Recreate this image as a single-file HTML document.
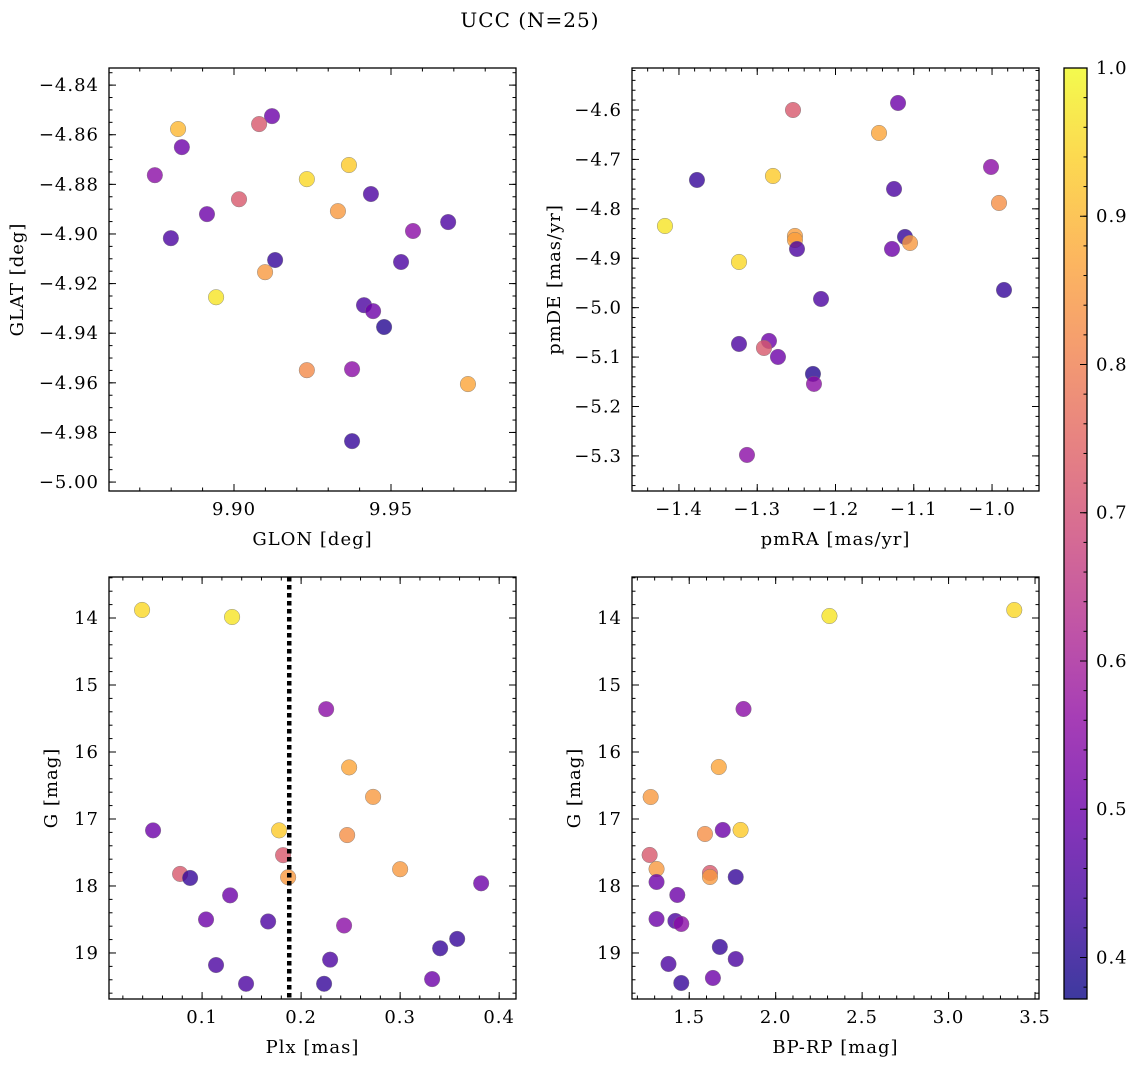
<!DOCTYPE html>
<html><head><meta charset="utf-8">
<style>
html,body{margin:0;padding:0;background:#fff;}
svg{display:block;font-family:"DejaVu Serif","Liberation Serif",serif;}
svg text{letter-spacing:1px;}
</style></head>
<body>
<svg id="fig" width="1136" height="1067" viewBox="0 0 1136 1067" xmlns="http://www.w3.org/2000/svg">
<defs>
<linearGradient id="plasma" x1="0" y1="1" x2="0" y2="0">
<stop offset="0" stop-color="#0d0887"/><stop offset="0.1" stop-color="#41049d"/><stop offset="0.2" stop-color="#6a00a8"/>
<stop offset="0.3" stop-color="#8f0da4"/><stop offset="0.4" stop-color="#b12a90"/><stop offset="0.5" stop-color="#cc4778"/>
<stop offset="0.6" stop-color="#e16462"/><stop offset="0.7" stop-color="#f2844b"/><stop offset="0.8" stop-color="#fca636"/>
<stop offset="0.9" stop-color="#fcce25"/><stop offset="1" stop-color="#f0f921"/>
</linearGradient>
</defs>
<text x="530" y="27" font-size="20" text-anchor="middle">UCC (N=25)</text>
</svg>
<script>
// Panel 1 data
const glon=[9.8822,9.9121,9.9080,9.8834,9.8748,9.9366,9.9232,9.9016,9.9331,9.9436,9.8914,9.8799,9.9682,9.9570,9.9131,9.9532,9.9099,9.8943,9.9414,9.9443,9.9478,9.9232,9.9376,9.9745,9.9376];
const glat=[-4.8577,-4.8525,-4.8557,-4.8650,-4.8763,-4.8722,-4.8779,-4.8860,-4.8908,-4.8839,-4.8920,-4.9017,-4.8952,-4.8988,-4.9105,-4.9113,-4.9154,-4.9255,-4.9287,-4.9311,-4.9375,-4.9549,-4.9545,-4.9605,-4.9835];
const prob1=[0.9,0.5,0.72,0.5,0.55,0.93,0.95,0.72,0.85,0.45,0.5,0.45,0.45,0.55,0.42,0.45,0.85,0.97,0.45,0.5,0.4,0.82,0.55,0.87,0.42];
// Panel 2 data
const pmra=[-1.2543,-1.1201,-1.1444,-1.3770,-1.2799,-1.0013,-1.1252,-0.9911,-1.4179,-1.2518,-1.2518,-1.1112,-1.1048,-1.2492,-1.1278,-1.3233,-0.9847,-1.2185,-1.2850,-1.3233,-1.2914,-1.2735,-1.2288,-1.2275,-1.3131];
const pmde=[-4.600,-4.5858,-4.6465,-4.7416,-4.7335,-4.7153,-4.7598,-4.7881,-4.8347,-4.8549,-4.8630,-4.8569,-4.8691,-4.8812,-4.8812,-4.9075,-4.9642,-4.9824,-5.0673,-5.0734,-5.0815,-5.0997,-5.1341,-5.1543,-5.2980];
const prob2=[0.72,0.5,0.87,0.42,0.93,0.55,0.45,0.83,0.97,0.86,0.86,0.42,0.85,0.45,0.5,0.95,0.42,0.45,0.5,0.45,0.72,0.5,0.4,0.55,0.55];
// Panel 3 data
const plx=[0.0394,0.1303,0.2253,0.2485,0.2727,0.0505,0.1778,0.2465,0.1818,0.0778,0.0879,0.1869,0.3000,0.3818,0.1283,0.1040,0.1667,0.2434,0.3576,0.3404,0.1141,0.2293,0.3323,0.1444,0.2232];
const gmag3=[13.88,13.985,15.36,16.23,16.67,17.17,17.17,17.24,17.54,17.82,17.88,17.87,17.75,17.96,18.14,18.50,18.53,18.59,18.79,18.93,19.18,19.10,19.39,19.46,19.46];
const prob3=[0.95,0.97,0.55,0.87,0.85,0.5,0.93,0.83,0.72,0.72,0.42,0.85,0.85,0.5,0.5,0.5,0.45,0.55,0.42,0.42,0.45,0.45,0.5,0.45,0.42];
const plxLine=0.188;
// Panel 4 data
const bprp=[3.380,2.311,1.814,1.671,1.277,1.591,1.694,1.797,1.271,1.311,1.620,1.620,1.769,1.311,1.431,1.311,1.420,1.454,1.677,1.769,1.380,1.637,1.454];
const gmag4=[13.881,13.970,15.358,16.224,16.672,17.224,17.164,17.164,17.537,17.746,17.806,17.866,17.866,17.940,18.134,18.493,18.522,18.567,18.910,19.090,19.164,19.373,19.448];
const prob4=[0.95,0.97,0.55,0.87,0.85,0.83,0.5,0.93,0.72,0.85,0.72,0.85,0.42,0.5,0.5,0.5,0.45,0.55,0.42,0.45,0.45,0.5,0.42];
// Tick labels
const ticks1x=[9.90,9.95], ticks1y=[-4.84,-4.86,-4.88,-4.90,-4.92,-4.94,-4.96,-4.98,-5.00];
const ticks2x=[-1.4,-1.3,-1.2,-1.1,-1.0], ticks2y=[-4.6,-4.7,-4.8,-4.9,-5.0,-5.1,-5.2,-5.3];
const ticks3x=[0.1,0.2,0.3,0.4], ticksG=[14,15,16,17,18,19];
const ticks4x=[1.5,2.0,2.5,3.0,3.5];
const ticksCb=[0.4,0.5,0.6,0.7,0.8,0.9,1.0];
const cmin=0.372, cmax=1.0;

const NS="http://www.w3.org/2000/svg";
const svg=document.getElementById('fig');
const FS=18;
function mk(tag,attrs,parent){const e=document.createElementNS(NS,tag);for(const k in attrs)e.setAttribute(k,attrs[k]);(parent||svg).appendChild(e);return e;}
const stops=[[0,13,8,135],[0.1,65,4,157],[0.2,106,0,168],[0.3,143,13,164],[0.4,177,42,144],[0.5,204,71,120],[0.6,225,100,98],[0.7,242,132,75],[0.8,252,166,54],[0.9,252,206,37],[1,240,249,33]];
function plasma(v){let t=(v-cmin)/(cmax-cmin);t=Math.max(0,Math.min(1,t));
 for(let i=0;i<stops.length-1;i++){const a=stops[i],b=stops[i+1];if(t<=b[0]){const f=(t-a[0])/(b[0]-a[0]);
  return `rgb(${Math.round(a[1]+f*(b[1]-a[1]))},${Math.round(a[2]+f*(b[2]-a[2]))},${Math.round(a[3]+f*(b[3]-a[3]))})`;}}
 return 'rgb(240,249,33)';}
function fmt(v,d){const s=Math.abs(v).toFixed(d);return (v<-1e-9?'\u2212':'')+s;}

function panel(o){
 const g=mk('g',{});
 
 
 const X=v=>o.x0+(v-o.xmin)/(o.xmax-o.xmin)*(o.x1-o.x0);
 const Y=o.yinv? v=>o.y0+(v-o.ymin)/(o.ymax-o.ymin)*(o.y1-o.y0) : v=>o.y1-(v-o.ymin)/(o.ymax-o.ymin)*(o.y1-o.y0);
 const tg=mk('g',{stroke:'#000','stroke-width':1},g);
 
 
 for(let v=Math.ceil(o.xmin/o.xminor)*o.xminor;v<=o.xmax;v+=o.xminor){const x=X(v);
  mk('line',{x1:x,x2:x,y1:o.y1,y2:o.y1-3.5},tg);mk('line',{x1:x,x2:x,y1:o.y0,y2:o.y0+3.5},tg);}
 const ylo=Math.min(o.ymin,o.ymax);
 for(let v=Math.ceil(ylo/o.yminor)*o.yminor;v<=Math.max(o.ymin,o.ymax);v+=o.yminor){const y=Y(v);
  mk('line',{x1:o.x0,x2:o.x0+3.5,y1:y,y2:y},tg);mk('line',{x1:o.x1,x2:o.x1-3.5,y1:y,y2:y},tg);}
 o.xt.forEach(v=>{const x=X(v);mk('line',{x1:x,x2:x,y1:o.y1,y2:o.y1-7},tg);mk('line',{x1:x,x2:x,y1:o.y0,y2:o.y0+7},tg);
  const t=mk('text',{x:x,y:o.y1+24,'font-size':FS,'text-anchor':'middle'},g);t.textContent=fmt(v,o.xd);
  });
 o.yt.forEach(v=>{const y=Y(v);mk('line',{x1:o.x0,x2:o.x0+7,y1:y,y2:y},tg);mk('line',{x1:o.x1,x2:o.x1-7,y1:y,y2:y},tg);
  const t=mk('text',{x:o.x0-10,y:y+6,'font-size':FS,'text-anchor':'end'},g);t.textContent=fmt(v,o.yd);
  });
 const pg=mk('g',{},g);
 
 
 if(o.vline!==undefined){const l=mk('line',{x1:X(o.vline),x2:X(o.vline),y1:o.y0,y2:o.y1,stroke:'#000','stroke-width':4.5,'stroke-dasharray':'4.5,3.5'},g);
  }
 o.xs.forEach((xv,i)=>{const c=mk('circle',{cx:X(xv),cy:Y(o.ys[i]),r:7.8,fill:plasma(o.cs[i]),'fill-opacity':0.8,stroke:'#777','stroke-width':0.5,'stroke-opacity':0.8},pg);
  });
 const fr=mk('rect',{x:o.x0,y:o.y0,width:o.x1-o.x0,height:o.y1-o.y0,fill:'none',stroke:'#000','stroke-width':1.3},g);
 
 const xl=mk('text',{x:(o.x0+o.x1)/2,y:o.y1+54,'font-size':FS,'text-anchor':'middle'},g);xl.textContent=o.xlabel;
 
 const yx=o.ylx, yc=(o.y0+o.y1)/2;
 const yl=mk('text',{x:yx,y:yc,'font-size':FS,'text-anchor':'middle',transform:`rotate(-90 ${yx} ${yc})`},g);yl.textContent=o.ylabel;
 
}
panel({name:'glon-glat-panel',x0:109,x1:516,y0:68,y1:491,xmin:9.8602,xmax:9.9898,ymin:-5.0036,ymax:-4.8331,
 xminor:0.01,yminor:0.005,xt:ticks1x,yt:ticks1y,xd:2,yd:2,xs:glon,ys:glat,cs:prob1,xlabel:'GLON [deg]',ylabel:'GLAT [deg]',ylx:23});
panel({name:'pm-panel',x0:632,x1:1039,y0:68,y1:491,xmin:-1.460,xmax:-0.940,ymin:-5.371,ymax:-4.515,
 xminor:0.02,yminor:0.02,xt:ticks2x,yt:ticks2y,xd:1,yd:1,xs:pmra,ys:pmde,cs:prob2,xlabel:'pmRA [mas/yr]',ylabel:'pmDE [mas/yr]',ylx:560});
panel({name:'plx-g-panel',x0:109,x1:516,y0:577,y1:999,xmin:0.006,xmax:0.417,ymin:13.388,ymax:19.687,yinv:true,
 xminor:0.02,yminor:0.2,xt:ticks3x,yt:ticksG,xd:1,yd:0,xs:plx,ys:gmag3,cs:prob3,vline:plxLine,xlabel:'Plx [mas]',ylabel:'G [mag]',ylx:57});
panel({name:'cmd-panel',x0:632,x1:1039,y0:577,y1:999,xmin:1.169,xmax:3.523,ymin:13.388,ymax:19.687,yinv:true,
 xminor:0.1,yminor:0.2,xt:ticks4x,yt:ticksG,xd:1,yd:0,xs:bprp,ys:gmag4,cs:prob4,xlabel:'BP-RP [mag]',ylabel:'G [mag]',ylx:580});
(function(){
 const x0=1064,x1=1087,y0=68,y1=999;
 const Y=v=>y1-(v-cmin)/(cmax-cmin)*(y1-y0);
 const g=mk('g',{});
 
 
 mk('rect',{x:x0,y:y0,width:x1-x0,height:y1-y0,fill:'url(#plasma)','fill-opacity':0.8},g);
 mk('rect',{x:x0,y:y0,width:x1-x0,height:y1-y0,fill:'none',stroke:'#000','stroke-width':1.3},g);
 for(let v=Math.ceil(cmin/0.02)*0.02;v<=cmax+1e-9;v+=0.02){const y=Y(v);mk('line',{x1:x1,x2:x1-3.5,y1:y,y2:y,stroke:'#000'},g);}
 ticksCb.forEach(v=>{const y=Y(v);mk('line',{x1:x1,x2:x1-7,y1:y,y2:y,stroke:'#000'},g);
  const t=mk('text',{x:x1+9,y:y+6,'font-size':FS},g);t.textContent=v.toFixed(1);
  });
})();
</script>
</body></html>
